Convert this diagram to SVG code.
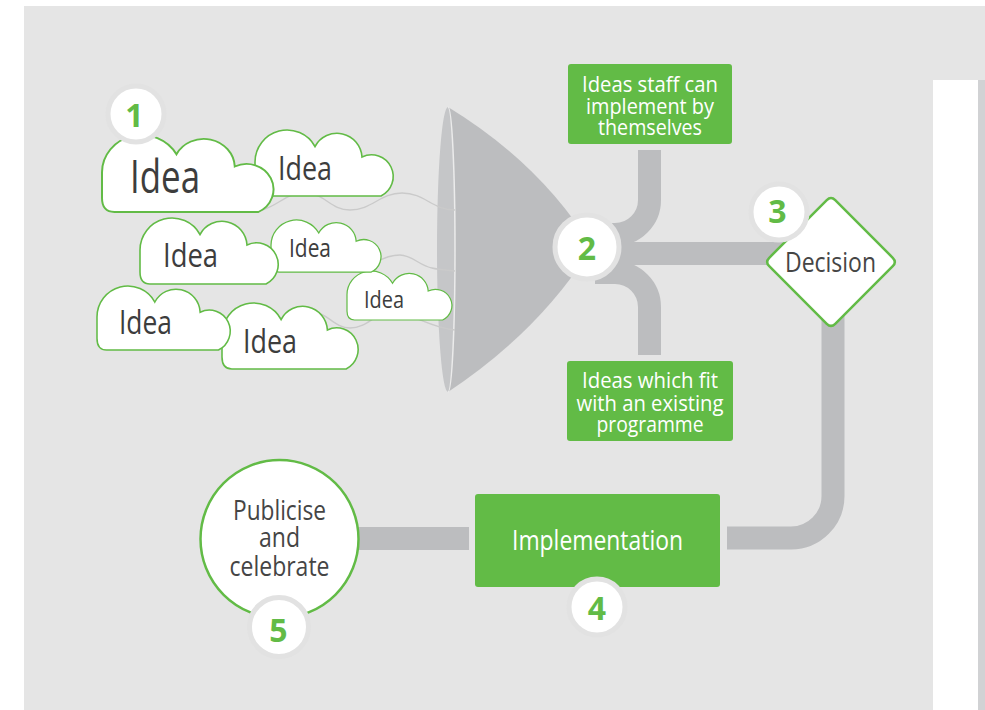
<svg xmlns="http://www.w3.org/2000/svg" width="985" height="710" viewBox="0 0 985 710">
<style>
.cloud{fill:#fff;stroke:#62bb46;stroke-width:1.6;vector-effect:non-scaling-stroke}
.bar{fill:none;stroke:#bcbdbf;stroke-width:23;stroke-linecap:butt}
.wave{fill:none;stroke:#cacaca;stroke-width:1.4}
.ring{fill:#fff;stroke:#e2e2e2;stroke-width:5}
.num{font-family:"Open Sans","DejaVu Sans",sans-serif;font-weight:bold;font-size:32px;fill:#62bb46;text-anchor:middle}
.idea{font-family:"Open Sans","DejaVu Sans",sans-serif;fill:#3d3d3d}
.wt{font-family:"Open Sans","DejaVu Sans",sans-serif;fill:#fff;text-anchor:middle}
.dk{font-family:"Open Sans","DejaVu Sans",sans-serif;fill:#454545;text-anchor:middle}
.gbox{fill:#62bb46}
</style>
<defs>
<path id="cl" d="M10,66 Q0,66 0,54 L0,32 A32 32 0 0 1 60,16.5 A25 25 0 0 1 107,27 A21.5 21.5 0 0 1 126,66 Z"/>
</defs>
<rect x="0" y="0" width="985" height="710" fill="#fff"/>
<rect x="24" y="6" width="961" height="704" fill="#e5e5e5"/>
<rect x="933" y="80" width="45" height="630" fill="#fff"/>
<rect x="978" y="80" width="7" height="630" fill="#d1d2d4"/>

<g id="funnel">
<path d="M448,107 Q540,163 592,247 Q540,331 448,392 Z" fill="#bcbdbf"/>
<path d="M448,107 A11 142.5 0 0 0 448,392 A7 142.5 0 0 0 448,107 Z" fill="#c5c6c8"/>
<path d="M448,107 A7 142.5 0 0 1 448,392" fill="none" stroke="#ebebeb" stroke-width="1.5"/>
</g>

<g id="connectors">
<path class="bar" d="M649.5,150 V200 A34.5 34.5 0 0 1 615,234.5 H595"/>
<path class="bar" d="M649.5,355 V307 A34.5 34.5 0 0 0 615,272.5 H595"/>
<path class="bar" d="M612,253.5 H790"/>
<path class="bar" d="M833,300 V496 A42 42 0 0 1 791,538 H727"/>
<path class="bar" d="M350,538.5 H469"/>
<path class="wave" d="M262,210 C280,205 285,193 305,193 C325,193 330,210 350,210 C372,210 380,193 402,193 C425,193 432,210 455,210"/>
<path class="wave" d="M377,262 C385,257 392,255 400,255 C412,255 420,266 432,268 C440,270 448,270 455,271"/>
<path class="wave" d="M315,312 C328,314 335,328 350,328 C368,328 375,312 392,312 C410,312 430,328 455,330"/>
</g>

<g id="idea7">
<use href="#cl" class="cloud" transform="translate(222,303) scale(0.985,1)"/>
<text class="idea" x="243" y="353" font-size="33" textLength="54" lengthAdjust="spacingAndGlyphs">Idea</text>
</g>
<g id="idea6">
<use href="#cl" class="cloud" transform="translate(97,286) scale(0.964,0.97)"/>
<text class="idea" x="119" y="334" font-size="32" textLength="53" lengthAdjust="spacingAndGlyphs">Idea</text>
</g>
<g id="idea5">
<use href="#cl" class="cloud" transform="translate(347,271) scale(0.759,0.742)"/>
<text class="idea" x="364" y="308" font-size="23" textLength="40" lengthAdjust="spacingAndGlyphs">Idea</text>
</g>
<g id="idea4">
<use href="#cl" class="cloud" transform="translate(271,220) scale(0.796,0.788)"/>
<text class="idea" x="289" y="257" font-size="25" textLength="42" lengthAdjust="spacingAndGlyphs">Idea</text>
</g>
<g id="idea3">
<use href="#cl" class="cloud" transform="translate(140,218)"/>
<text class="idea" x="163" y="267" font-size="33" textLength="55" lengthAdjust="spacingAndGlyphs">Idea</text>
</g>
<g id="idea2">
<use href="#cl" class="cloud" transform="translate(255,130)"/>
<text class="idea" x="278" y="180" font-size="33" textLength="54" lengthAdjust="spacingAndGlyphs">Idea</text>
</g>
<g id="idea1">
<use href="#cl" class="cloud" transform="translate(102,135) scale(1.241,1.167)"/>
<text class="idea" x="130" y="193" font-size="45" textLength="70" lengthAdjust="spacingAndGlyphs">Idea</text>
</g>

<g id="box-self">
<rect class="gbox" x="568" y="64" width="164" height="80" rx="3"/>
<text class="wt" x="650" y="91.5" font-size="22" textLength="136" lengthAdjust="spacingAndGlyphs">Ideas staff can</text>
<text class="wt" x="650" y="113.5" font-size="22" textLength="128" lengthAdjust="spacingAndGlyphs">implement by</text>
<text class="wt" x="650" y="135" font-size="22" textLength="104" lengthAdjust="spacingAndGlyphs">themselves</text>
</g>
<g id="box-programme">
<rect class="gbox" x="567" y="361" width="166" height="80" rx="3"/>
<text class="wt" x="650" y="387.5" font-size="22" textLength="136" lengthAdjust="spacingAndGlyphs">Ideas which fit</text>
<text class="wt" x="650" y="411" font-size="22" textLength="147" lengthAdjust="spacingAndGlyphs">with an existing</text>
<text class="wt" x="650" y="432" font-size="22" textLength="107" lengthAdjust="spacingAndGlyphs">programme</text>
</g>

<g id="decision">
<path d="M826.76,200.24 Q831,196 835.24,200.24 L892.76,257.76 Q897,262 892.76,266.24 L835.24,323.76 Q831,328 826.76,323.76 L769.24,266.24 Q765,262 769.24,257.76 Z" fill="#fff" stroke="#62bb46" stroke-width="2.5"/>
<text class="dk" x="830.5" y="271.5" font-size="27" fill="#333" textLength="91" lengthAdjust="spacingAndGlyphs">Decision</text>
</g>

<g id="implementation">
<rect class="gbox" x="475" y="494" width="245" height="93" rx="3"/>
<text class="wt" x="597.5" y="550" font-size="28" textLength="171" lengthAdjust="spacingAndGlyphs">Implementation</text>
</g>

<g id="publicise">
<circle cx="279.5" cy="539" r="79" fill="#fff" stroke="#62bb46" stroke-width="2.5"/>
<text class="dk" x="279.5" y="520" font-size="27" textLength="93" lengthAdjust="spacingAndGlyphs">Publicise</text>
<text class="dk" x="279.5" y="547" font-size="27" textLength="41" lengthAdjust="spacingAndGlyphs">and</text>
<text class="dk" x="279.5" y="576" font-size="27" textLength="100" lengthAdjust="spacingAndGlyphs">celebrate</text>
</g>

<g id="badge1"><circle class="ring" cx="136" cy="114" r="28"/><text class="num" x="134.5" y="126.5">1</text></g>
<g id="badge2"><circle class="ring" cx="587" cy="247" r="32"/><text class="num" x="587" y="259.5" font-size="34">2</text></g>
<g id="badge3"><circle class="ring" cx="779" cy="212" r="28"/><text class="num" x="777.5" y="223">3</text></g>
<g id="badge4"><circle class="ring" cx="597" cy="607" r="28"/><text class="num" x="597" y="619.5">4</text></g>
<g id="badge5"><circle class="ring" cx="279" cy="627" r="29.5"/><text class="num" x="278.5" y="641.5">5</text></g>
</svg>
